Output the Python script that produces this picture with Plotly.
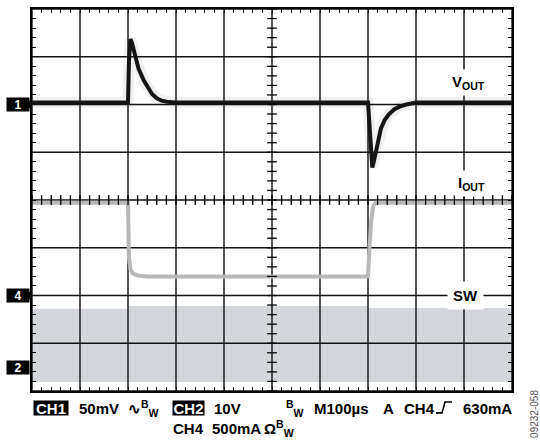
import numpy as np
import plotly.graph_objects as go

# Time axis in divisions (M100µs -> 100 µs/div), amplitudes in screen divisions
VOUT_T = [0, 2.0, 2.02, 2.05, 2.08, 2.15, 2.22, 2.33, 2.42, 2.5, 2.6, 2.7, 2.85, 3.0,
          7.0, 7.03, 7.06, 7.09, 7.12, 7.16, 7.21, 7.27, 7.35, 7.44, 7.55, 7.67, 7.8, 8.0, 10]
VOUT_V = [2.04, 2.04, 2.9, 3.37, 3.3, 3.0, 2.75, 2.5, 2.34, 2.22, 2.13, 2.08, 2.05, 2.04,
          2.04, 1.5, 0.9, 0.68, 0.8, 1.0, 1.25, 1.5, 1.68, 1.8, 1.9, 1.96, 2.0, 2.04, 2.04]

IOUT_T = [0, 2.0, 2.02, 2.05, 2.1, 2.2, 2.4, 7.0, 7.03, 7.07, 7.11, 7.16, 10]
IOUT_V = [-0.06, -0.06, -1.2, -1.45, -1.54, -1.58, -1.6, -1.6, -1.0, -0.4, -0.12, -0.06, -0.06]

SW_T = [0, 2.0, 2.0, 7.0, 7.0, 10]
SW_HI = [-2.28, -2.28, -2.22, -2.22, -2.26, -2.26]
SW_LO = [-3.81, -3.81, -3.81, -3.81, -3.81, -3.81]

CH_MARKERS = [("1", 2.0, True), ("4", -2.0, True), ("2", -3.5, False)]

L, R, T, B = 32, 512, 7, 391
W, H = 540, 440


def px(x):
    return (x - L) / (R - L)


def py(y):
    return (B - y) / (B - T)


fig = go.Figure()
shapes = []

# SW band (built from SW arrays, data coords), below the graticule
path = "M " + " L ".join(f"{t},{h}" for t, h in zip(SW_T, SW_HI))
path += " L " + " L ".join(f"{t},{l}" for t, l in zip(SW_T[::-1], SW_LO[::-1])) + " Z"
shapes.append(dict(type="path", path=path, xref="x", yref="y", layer="below",
                   fillcolor="#d3d6da", line=dict(width=0)))

# graticule
for gx in range(0, 11):
    shapes.append(dict(type="line", xref="x", yref="y", x0=gx, x1=gx, y0=-4, y1=4,
                       layer="below", line=dict(color="#111111", width=1.4)))
for gy in range(-4, 5):
    shapes.append(dict(type="line", xref="x", yref="y", x0=0, x1=10, y0=gy, y1=gy,
                       layer="below", line=dict(color="#111111", width=1.4)))

# IOUT trace
fig.add_trace(go.Scatter(x=IOUT_T, y=IOUT_V, mode="lines",
                         line=dict(color="#b8b8b8", width=4), hoverinfo="skip"))
# VOUT noise halo + trace
fig.add_trace(go.Scatter(x=VOUT_T, y=VOUT_V, mode="lines",
                         line=dict(color="rgba(40,40,40,0.07)", width=11), hoverinfo="skip"))
fig.add_trace(go.Scatter(x=VOUT_T, y=VOUT_V, mode="lines",
                         line=dict(color="#151515", width=4), hoverinfo="skip"))

# center-line minor ticks
tx = np.arange(0, 10.001, 0.2)
fig.add_trace(go.Scatter(x=tx, y=np.zeros_like(tx), mode="markers",
                         marker=dict(symbol="line-ns", size=7, line=dict(width=1.3, color="black")),
                         hoverinfo="skip"))
ty = np.arange(-4, 4.001, 0.2)
fig.add_trace(go.Scatter(x=np.full_like(ty, 5.0), y=ty, mode="markers",
                         marker=dict(symbol="line-ew", size=7, line=dict(width=1.3, color="black")),
                         hoverinfo="skip"))

axis_common = dict(showgrid=False, showticklabels=False,
                   zeroline=False, showline=True, linecolor="black", linewidth=2.2,
                   mirror="ticks", ticks="inside", ticklen=4, tickcolor="black", tickwidth=1.2,
                   minor=dict(dtick=0.2, ticks="inside", ticklen=4, tickcolor="black",
                              tickwidth=1.2, showgrid=False),
                   fixedrange=True)
fig.update_xaxes(range=[0, 10], dtick=1, **axis_common)
fig.update_yaxes(range=[-4, 4], dtick=1, **axis_common)

FONT = "Liberation Sans, Arial, sans-serif"
FS = 15
ann = []
# Trace labels
ann.append(dict(x=px(468), y=py(81), xref="paper", yref="paper", text="<b>V<sub>OUT</sub></b>",
                xanchor="center", yanchor="middle",
                showarrow=False, font=dict(family=FONT, size=FS, color="black"),
                bgcolor="white", borderpad=3))
ann.append(dict(x=px(471), y=py(182), xref="paper", yref="paper", text="<b>I<sub>OUT</sub></b>",
                xanchor="center", yanchor="middle",
                showarrow=False, font=dict(family=FONT, size=FS, color="black"),
                bgcolor="white", borderpad=3))
ann.append(dict(x=px(465), y=py(295), xref="paper", yref="paper", text="<b>SW</b>",
                xanchor="center", yanchor="middle",
                showarrow=False, font=dict(family=FONT, size=FS, color="black"),
                bgcolor="white", borderpad=5))

# Channel markers
for lab, yv, arrow in CH_MARKERS:
    ann.append(dict(x=px(6), y=yv, xref="paper", yref="y", text=f"<b>{lab}</b>",
                    xanchor="left", yanchor="middle",
                    showarrow=False, font=dict(family=FONT, size=12, color="white"),
                    bgcolor="black", width=22, height=13, borderpad=0))
    if arrow:
        shapes.append(dict(type="path", xref="paper", yref="y",
                           path=f"M {px(27.5)},{yv + 6.5/48} L {px(32)},{yv} L {px(27.5)},{yv - 6.5/48} Z",
                           fillcolor="black", line=dict(width=0)))

# Bottom status text
row1 = py(408.5)
row2 = py(429)


def txt(x, y, s, color="black", bg=None, w=None):
    d = dict(x=px(x), y=y, xref="paper", yref="paper", text=s, showarrow=False,
             xanchor="left", yanchor="middle", font=dict(family=FONT, size=FS, color=color))
    if bg:
        d.update(bgcolor=bg, borderpad=0)
    if w:
        d.update(width=w, height=14)
    return d


ann.append(txt(33, row1, "<b>CH1</b>", color="white", bg="black", w=34))
ann.append(txt(77, row1, "<b>50mV</b>"))
ann.append(txt(126, row1, "<b>∿<sup>B</sup><sub>W</sub></b>"))
ann.append(txt(172, row1, "<b>CH2</b>", color="white", bg="black", w=31))
ann.append(txt(212, row1, "<b>10V</b>"))
ann.append(txt(284, row1, "<b><sup>B</sup><sub>W</sub></b>"))
ann.append(txt(312, row1, "<b>M100µs</b>"))
ann.append(txt(381, row1, "<b>A</b>"))
ann.append(txt(402, row1, "<b>CH4</b>"))
ann.append(txt(461, row1, "<b>630mA</b>"))
ann.append(txt(171, row2, "<b>CH4</b>"))
ann.append(txt(210, row2, "<b>500mA</b>"))
ann.append(txt(262, row2, "<b>Ω<sup>B</sup><sub>W</sub></b>"))

# trigger (rising edge) symbol
shapes.append(dict(type="path", xref="paper", yref="paper",
                   path=f"M {px(436)},{py(413)} L {px(442)},{py(413)} L {px(445)},{py(402)} L {px(452)},{py(402)}",
                   line=dict(color="black", width=1.6)))

ann.append(dict(x=px(535), y=py(414), xref="paper", yref="paper", text="09232-058",
                xanchor="center", yanchor="middle",
                textangle=-90, showarrow=False, font=dict(family=FONT, size=10, color="#555555")))

fig.update_layout(width=W, height=H, margin=dict(l=L, r=W - R, t=T, b=H - B),
                  plot_bgcolor="white", paper_bgcolor="white", showlegend=False,
                  annotations=ann, shapes=shapes)

fig.write_html("out.html", config={"displayModeBar": False},
               post_script="document.body.style.margin='0';document.body.style.overflow='hidden';")
